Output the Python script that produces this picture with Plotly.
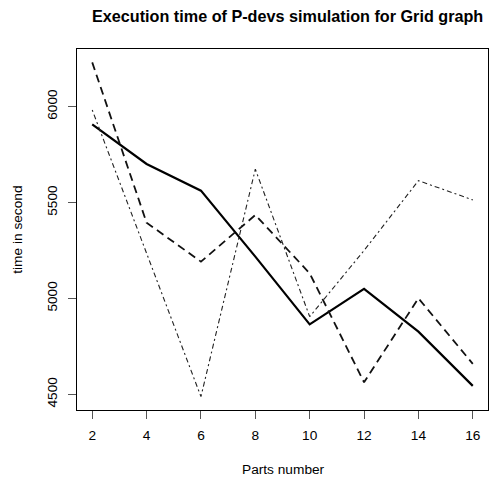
import plotly.graph_objects as go

parts = [2, 4, 6, 8, 10, 12, 14, 16]
series_solid = [5908, 5701, 5562, 5218, 4865, 5050, 4827, 4544]
series_dashed = [6231, 5395, 5192, 5435, 5131, 4563, 5001, 4659]
series_dotdash = [5983, 5230, 4488, 5674, 4905, 5250, 5614, 5514]
x_ticks = [2, 4, 6, 8, 10, 12, 14, 16]
y_ticks = [4500, 5000, 5500, 6000]

W, H = 491, 479
L, R, T, B = 76.5, 3, 49, 68.7
PW, PH = W - L - R, H - T - B

fig = go.Figure()
fig.add_trace(go.Scatter(x=parts, y=series_solid, mode="lines",
                         line=dict(color="black", width=2.2, dash="solid")))
fig.add_trace(go.Scatter(x=parts, y=series_dashed, mode="lines",
                         line=dict(color="#111111", width=1.8, dash="8px,5px")))
fig.add_trace(go.Scatter(x=parts, y=series_dotdash, mode="lines",
                         line=dict(color="#222222", width=1.1, dash="2px,3px,5px,3px")))

allv = series_solid + series_dashed + series_dotdash
ymin, ymax = min(allv), max(allv)
ypad = (ymax - ymin) * 0.04
xpad = (max(parts) - min(parts)) * 0.04

font = "Liberation Sans, Arial, Helvetica, sans-serif"
FS = 13.7
fig.update_layout(
    width=W, height=H,
    margin=dict(l=L, r=R, t=T, b=B, pad=0),
    paper_bgcolor="white", plot_bgcolor="white",
    showlegend=False,
    font=dict(family=font, size=FS, color="black"),
    xaxis=dict(range=[min(parts) - xpad, max(parts) + xpad], tickmode="array",
               tickvals=x_ticks, ticktext=[str(v) for v in x_ticks],
               showgrid=False, zeroline=False, showline=True, mirror=True,
               linecolor="black", linewidth=1, ticks="outside", ticklen=8,
               tickcolor="#555555", tickfont=dict(size=FS), ticklabelstandoff=5),
    yaxis=dict(range=[ymin - ypad, ymax + ypad], tickmode="array",
               tickvals=y_ticks, ticktext=[str(v) for v in y_ticks],
               tickangle=-90,
               showgrid=False, zeroline=False, showline=True, mirror=True,
               linecolor="black", linewidth=1, ticks="outside", ticklen=8,
               tickcolor="#555555", tickfont=dict(size=FS), ticklabelstandoff=6),
)
fig.add_annotation(text="<b>Execution time of P-devs simulation for Grid graph</b>",
                   xref="paper", yref="paper",
                   x=(287.5 - L) / PW, y=(H - B - 15.5) / PH,
                   xanchor="center", yanchor="middle", showarrow=False,
                   font=dict(family=font, size=16.2, color="black"))
fig.add_annotation(text="Parts number", xref="paper", yref="paper",
                   x=(283.3 - L) / PW, y=(H - B - 470) / PH,
                   xanchor="center", yanchor="middle",
                   showarrow=False, font=dict(family=font, size=FS))
fig.add_annotation(text="time in second", xref="paper", yref="paper",
                   x=(17.3 - L) / PW, y=(H - B - 230) / PH,
                   xanchor="center", yanchor="middle",
                   textangle=-90, showarrow=False, font=dict(family=font, size=FS))
fig.write_html("out.html", config={"displayModeBar": False},
               post_script="document.body.style.margin='0';document.body.style.overflow='hidden';")
